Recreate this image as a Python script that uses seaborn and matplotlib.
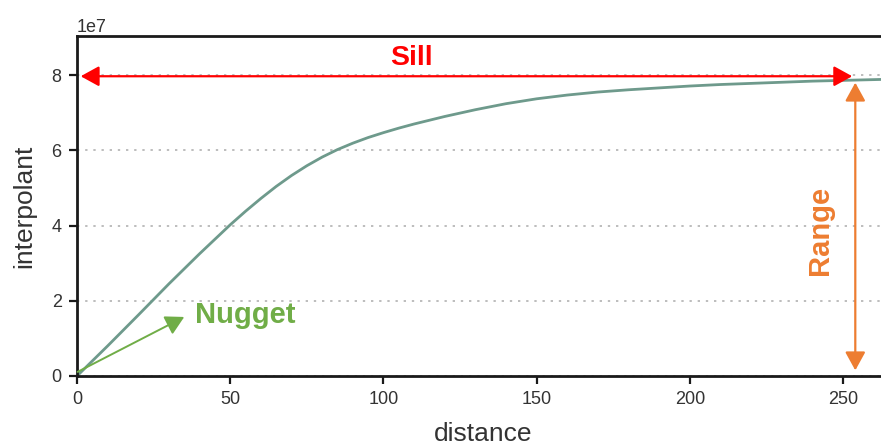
import matplotlib
matplotlib.use("Agg")
import matplotlib.pyplot as plt
from matplotlib.patches import ArrowStyle
import seaborn as sns
import pandas as pd

# Experimental semivariogram model (interpolant vs lag distance)
distance = [0, 10, 20, 30, 40, 50, 55, 60, 65, 70, 75, 80, 85, 90, 95, 100,
            105, 110, 115, 120, 130, 140, 150, 160, 170, 180, 190, 200, 210,
            220, 230, 240, 250, 260, 265]
interpolant = [0.0, 0.80e7, 1.62e7, 2.45e7, 3.25e7, 4.02e7, 4.38e7, 4.72e7,
               5.04e7, 5.33e7, 5.59e7, 5.82e7, 6.02e7, 6.19e7, 6.34e7, 6.47e7,
               6.59e7, 6.70e7, 6.80e7, 6.90e7, 7.08e7, 7.24e7, 7.37e7, 7.47e7,
               7.55e7, 7.61e7, 7.66e7, 7.71e7, 7.75e7, 7.78e7, 7.81e7, 7.84e7,
               7.86e7, 7.88e7, 7.89e7]

y_ticks = [0, 2e7, 4e7, 6e7, 8e7]
x_ticks = [0, 50, 100, 150, 200, 250]

sill_value = 7.97e7
range_distance = 254
nugget_tip = (35, 1.57e7)

df = pd.DataFrame({"distance": distance, "interpolant": interpolant})

sns.set_style("ticks")
plt.rcParams["font.family"] = ["Liberation Sans", "DejaVu Sans"]

fig = plt.figure(figsize=(8.81, 4.46), dpi=100)
ax = fig.add_axes([77 / 881, 70 / 446, 812 / 881, 340 / 446])

sns.lineplot(data=df, x="distance", y="interpolant", ax=ax,
             color="#6e9a8c", linewidth=2.0)

ax.set_xlim(0, 265)
ax.set_ylim(0, 9.04e7)
ax.set_xticks(x_ticks)
ax.set_yticks(y_ticks)

ax.yaxis.grid(True, linestyle=(0, (1.2, 3)), color="#bdbdbd", linewidth=1.4)
ax.xaxis.grid(False)
ax.set_axisbelow(True)

for side in ["left", "top", "bottom", "right"]:
    ax.spines[side].set_color("#1a1a1a")
    ax.spines[side].set_linewidth(2.0)

ax.tick_params(axis="both", which="major", length=6, width=1.6,
               color="#1a1a1a", labelsize=13, labelcolor="#333333", pad=5)
ax.yaxis.get_offset_text().set_fontsize(13)
ax.yaxis.get_offset_text().set_color("#333333")

ax.set_xlabel("distance", fontsize=19, color="#333333", labelpad=10)
ax.set_ylabel("interpolant", fontsize=19, color="#333333", labelpad=11)

head = ArrowStyle("<|-|>", head_length=0.4, head_width=0.22)
single = ArrowStyle("-|>", head_length=0.4, head_width=0.22)

# Sill
ax.annotate("", xy=(1.2, sill_value), xytext=(253, sill_value),
            arrowprops=dict(arrowstyle=head, color="#ff0000", lw=1.6,
                            mutation_scale=28, shrinkA=0, shrinkB=0))
ax.text(109, 8.45e7, "Sill", color="#ff0000", fontsize=20.5,
        fontweight="bold", ha="center", va="center")

# Range
ax.annotate("", xy=(range_distance, 7.8e7), xytext=(range_distance, 0.15e7),
            arrowprops=dict(arrowstyle=head, color="#ed7d31", lw=1.6,
                            mutation_scale=28, shrinkA=0, shrinkB=0))
ax.text(242.5, 3.88e7, "Range", color="#ed7d31", fontsize=21,
        fontweight="bold", ha="center", va="center", rotation=90)

# Nugget
ax.annotate("", xy=nugget_tip, xytext=(0.2, 0.11e7),
            arrowprops=dict(arrowstyle=single, color="#70ad47", lw=1.4,
                            mutation_scale=28, shrinkA=0, shrinkB=0))
ax.text(38.5, 1.62e7, "Nugget", color="#70ad47", fontsize=21,
        fontweight="bold", ha="left", va="center")

fig.savefig("out.png", dpi=100)
